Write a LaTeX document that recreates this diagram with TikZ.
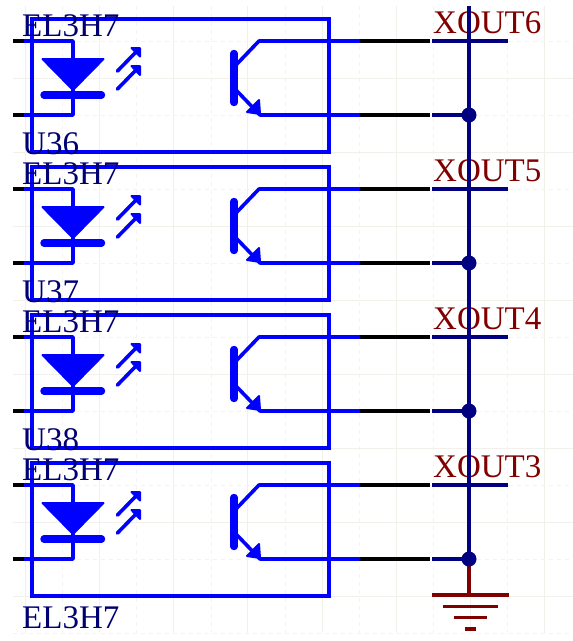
\documentclass[tikz,border=0pt]{standalone}
\usepackage{fontspec}
\setmainfont{Liberation Serif}
\definecolor{sym}{HTML}{0000FF}
\definecolor{navy}{HTML}{000080}
\definecolor{maroon}{HTML}{800000}
\definecolor{gridA}{HTML}{F2F0EA}
\definecolor{gridB}{HTML}{F4F3EF}
\tikzset{
  gridsolid/.style={gridA,line width=1pt},
  griddash/.style={gridB,line width=1pt,dash pattern=on 4pt off 4pt},
  symline/.style={sym,line width=3.6pt,line join=round},
  boxline/.style={sym,line width=3.6pt,line join=miter},
  symfill/.style={sym,fill=sym,line width=2pt,line join=round},
  symbar/.style={sym,line width=7.4pt,line cap=round},
  pinline/.style={black,line width=3.6pt},
  netline/.style={navy,line width=3.6pt},
  gndline/.style={maroon,line width=3.6pt},
  refdes/.style={anchor=base west,inner sep=0pt,text=navy!90!black,font=\fontsize{33}{33}\selectfont},
  netlabel/.style={anchor=base west,inner sep=0pt,text=maroon,font=\fontsize{33}{33}\selectfont},
  junction/.style={circle,fill=navy,inner sep=0pt,minimum size=15pt}
}
\begin{document}
\begin{tikzpicture}[x=1pt,y=-1pt]
\useasboundingbox (0,0) rectangle (573,641);
% background grid
\foreach \x in {25,99,173,247,322,396,470,544} \draw[gridsolid] (\x,6) -- (\x,633);
\foreach \x in {62,136,211,285,359,433,507} \draw[griddash] (\x,6) -- (\x,633);
\foreach \y in {78,152,226,300,374,448,522,596} \draw[gridsolid] (13,\y) -- (573,\y);
\foreach \y in {41,115,189,263,337,411,485,559,633} \draw[griddash] (13,\y) -- (573,\y);
% the four optocouplers
\foreach \r/\dy/\net/\des/\desy in {1/0/XOUT6/U36/154,2/148/XOUT5/U37/154,3/296/XOUT4/U38/154,4/444/XOUT3/EL3H7/184}{
\begin{scope}[yshift=-\dy pt]
  \coordinate (pa\r) at (13,41);
  \coordinate (pb\r) at (13,115);
  \coordinate (la\r) at (24,41);
  \coordinate (lb\r) at (24,115);
  \coordinate (da\r) at (73,41);
  \coordinate (db\r) at (73,115);
  \coordinate (ra\r) at (360,41);
  \coordinate (rb\r) at (360,115);
  \coordinate (na\r) at (430,41);
  \coordinate (nb\r) at (430,115);
  \coordinate (ma\r) at (432,41);
  \coordinate (mb\r) at (432,115);
  \coordinate (ea\r) at (508,41);
  \coordinate (bus\r) at (469,115);
  % pins
  \draw[pinline] (pa\r) -- (la\r);
  \draw[pinline] (pb\r) -- (lb\r);
  \draw[pinline] (ra\r) -- (na\r);
  \draw[pinline] (rb\r) -- (nb\r);
  % package
  \draw[boxline] (32,18.7) rectangle (329,152);
  % LED
  \draw[symline] (la\r) -- (da\r) -- (db\r) -- (lb\r);
  \draw[symfill] (42.5,59) -- (103.5,59) -- (73,90) -- cycle;
  \draw[symbar] (44,95) -- (101.5,95);
  % light arrows
  \draw[symline,line cap=round] (117.5,71) -- (136,52);
  \draw[symfill] (140,48) -- (140,56.5) -- (131.5,48) -- cycle;
  \draw[symline,line cap=round] (117.5,89) -- (136,70);
  \draw[symfill] (140,66) -- (140,75) -- (131.5,66) -- cycle;
  % transistor
  \draw[symbar] (234,53.5) -- (234,102.5);
  \draw[symline] (236,65) -- (259,41) -- (ra\r);
  \draw[symline] (236,90) -- (260,115) -- (rb\r);
  \draw[symfill] (259,100) -- (260,114) -- (247,112) -- cycle;
  % nets
  \draw[netline] (ma\r) -- (ea\r);
  \draw[netline] (mb\r) -- (bus\r);
  % labels
  \node[refdes] (top\r) at (22,36) {EL3H7};
  \node[refdes] (des\r) at (22,\desy) {\des};
  \node[netlabel] (net\r) at (433,33) {\net};
\end{scope}
}
% bus
\coordinate (bustop) at (469,6);
\draw[netline] (bustop) -- (bus4);
% ground
\coordinate (g0) at (469,595);
\draw[gndline] (bus4) -- (g0);
\draw[gndline] (432,595) -- (508.5,595);
\draw[gndline] (443,606.5) -- (497.5,606.5);
\draw[gndline] (454,617.5) -- (486.5,617.5);
\draw[gndline] (465,629) -- (475.5,629);
% junctions
\foreach \r in {1,2,3,4} \node[junction] (j\r) at (bus\r) {};
\end{tikzpicture}
\end{document}
